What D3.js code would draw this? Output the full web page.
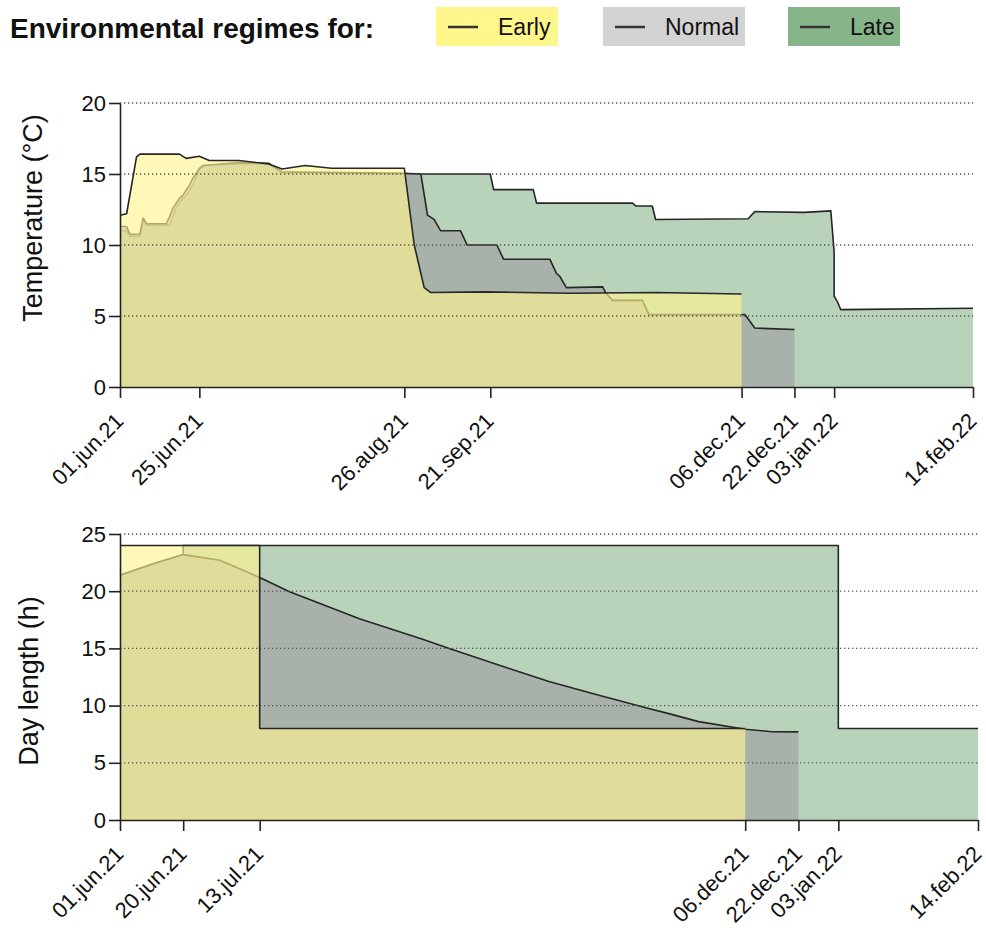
<!DOCTYPE html>
<html>
<head>
<meta charset="utf-8">
<script src="https://cdn.jsdelivr.net/npm/d3@7"></script>
<style>
body { margin: 0; background: #fff; }
svg { font-family: "Liberation Sans", Arial, sans-serif; }
</style>
</head>
<body>
<svg id="chart" width="986" height="928"></svg>
<script>
// regimes, drawn back to front (late first, early on top)
var regimes = ['Early', 'Normal', 'Late'];
var fillColors = {Early: '#fff492', Normal: '#a2a2a2', Late: '#86b48a'};
var fillAlpha = {Early: 0.64, Normal: 0.68, Late: 0.58};
var legendColors = {Early: '#fff68c', Normal: '#d3d3d3', Late: '#88b48a'};

// temperature (°C)
var earlyTemp = [
    ['2021-06-01', 12.1], ['2021-06-03', 12.2], ['2021-06-06', 16.2], ['2021-06-07', 16.4],
    ['2021-06-19', 16.4], ['2021-06-21', 16.1], ['2021-06-25', 16.25], ['2021-06-28', 15.95],
    ['2021-07-07', 15.95], ['2021-07-16', 15.7], ['2021-07-20', 15.35], ['2021-07-27', 15.6],
    ['2021-08-04', 15.4], ['2021-08-26', 15.4], ['2021-08-29', 10.0], ['2021-09-01', 7.0],
    ['2021-09-03', 6.65], ['2021-09-20', 6.7], ['2021-10-15', 6.6], ['2021-11-10', 6.65],
    ['2021-12-06', 6.55]
];
var normalTemp = [
    ['2021-06-01', 11.3], ['2021-06-03', 11.3], ['2021-06-04', 10.75], ['2021-06-07', 10.75],
    ['2021-06-08', 11.9], ['2021-06-09', 11.5], ['2021-06-15', 11.5], ['2021-06-16', 12.0],
    ['2021-06-17', 12.6], ['2021-06-19', 13.3], ['2021-06-20', 13.5], ['2021-06-22', 14.2],
    ['2021-06-23', 14.7], ['2021-06-25', 15.35], ['2021-06-26', 15.6], ['2021-07-07', 15.8],
    ['2021-07-16', 15.75], ['2021-07-20', 15.15], ['2021-08-26', 15.05], ['2021-08-31', 15.0],
    ['2021-09-02', 12.1], ['2021-09-04', 11.8], ['2021-09-06', 11.0], ['2021-09-12', 11.0],
    ['2021-09-14', 10.0], ['2021-09-23', 10.0], ['2021-09-25', 9.0], ['2021-10-09', 9.0],
    ['2021-10-11', 8.0], ['2021-10-12', 7.8], ['2021-10-14', 7.0], ['2021-10-25', 7.05],
    ['2021-10-26', 6.6], ['2021-10-28', 6.1], ['2021-11-06', 6.1], ['2021-11-08', 5.1],
    ['2021-12-07', 5.1], ['2021-12-10', 4.15], ['2021-12-22', 4.05]
];
var lateTemp = [
    ['2021-06-01', 11.0], ['2021-06-03', 11.0], ['2021-06-04', 10.6], ['2021-06-07', 10.6],
    ['2021-06-08', 11.75], ['2021-06-09', 11.4], ['2021-06-16', 11.4], ['2021-06-17', 12.0],
    ['2021-06-18', 12.7], ['2021-06-20', 13.3], ['2021-06-21', 13.5], ['2021-06-23', 14.2],
    ['2021-06-24', 14.8], ['2021-06-25', 15.4], ['2021-06-27', 15.6], ['2021-07-07', 15.7],
    ['2021-07-16', 15.7], ['2021-07-20', 15.1], ['2021-08-26', 15.0], ['2021-09-21', 15.0],
    ['2021-09-22', 13.9], ['2021-10-04', 13.9], ['2021-10-05', 12.95], ['2021-11-03', 12.95],
    ['2021-11-04', 12.75], ['2021-11-09', 12.75], ['2021-11-10', 11.8], ['2021-12-08', 11.85],
    ['2021-12-10', 12.35], ['2021-12-25', 12.3], ['2022-01-02', 12.4], ['2022-01-03', 9.5],
    ['2022-01-03', 6.4], ['2022-01-04', 6.0], ['2022-01-05', 5.45], ['2022-02-14', 5.55]
];

// day length (h)
var earlyDay = [
    ['2021-06-01', 24], ['2021-07-13', 24], ['2021-07-13', 8], ['2021-12-06', 8]
];
var normalDay = [
    ['2021-06-01', 21.4], ['2021-06-06', 21.9], ['2021-06-11', 22.4], ['2021-06-20', 23.2],
    ['2021-07-01', 22.7], ['2021-07-13', 21.2], ['2021-07-22', 19.95], ['2021-08-12', 17.6],
    ['2021-08-31', 15.8], ['2021-09-08', 15.0], ['2021-09-26', 13.25], ['2021-10-08', 12.1],
    ['2021-10-23', 10.9], ['2021-11-07', 9.75], ['2021-11-13', 9.3], ['2021-11-22', 8.6],
    ['2021-12-06', 7.93], ['2021-12-14', 7.72], ['2021-12-22', 7.7]
];
var lateDay = [
    ['2021-06-01', 21.4], ['2021-06-06', 21.9], ['2021-06-11', 22.4], ['2021-06-20', 23.2],
    ['2021-06-20', 24], ['2022-01-03', 24], ['2022-01-03', 8], ['2022-02-14', 8]
];

var tempTicks = ['2021-06-01', '2021-06-25', '2021-08-26', '2021-09-21', '2021-12-06', '2021-12-22', '2022-01-03', '2022-02-14'];
var dayTicks = ['2021-06-01', '2021-06-20', '2021-07-13', '2021-12-06', '2021-12-22', '2022-01-03', '2022-02-14'];
var tempYTicks = [0, 5, 10, 15, 20];
var dayYTicks = [0, 5, 10, 15, 20, 25];

var parse = d3.utcParse('%Y-%m-%d');
var fmt = d3.utcFormat('%d.%b.%y');
var svg = d3.select('#chart');

function to_points(rows) {
    return rows.map(function(r) { return {date: parse(r[0]), value: r[1]}; });
}

function draw_panel(p) {
    var x = d3.scaleUtc()
        .domain([parse('2021-06-01'), parse('2022-02-14')])
        .range([p.left, p.right]);
    var y = d3.scaleLinear().domain([0, p.ymax]).range([p.bottom, p.top]);
    var g = svg.append('g');

    var area = d3.area()
        .x(function(d) { return x(d.date); })
        .y0(y(0))
        .y1(function(d) { return y(d.value); });
    var line = d3.line()
        .x(function(d) { return x(d.date); })
        .y(function(d) { return y(d.value); });

    // late, normal, early
    ['Late', 'Normal', 'Early'].forEach(function(name) {
        var pts = to_points(p.series[name]);
        g.append('path')
            .attr('d', area(pts))
            .attr('fill', fillColors[name])
            .attr('fill-opacity', fillAlpha[name]);
        g.append('path')
            .attr('d', line(pts))
            .attr('fill', 'none')
            .attr('stroke', '#262626')
            .attr('stroke-width', 1.6)
            .attr('stroke-linejoin', 'round');
    });

    // dotted grid on top
    g.selectAll('.grid').data(p.yticks.filter(function(v) { return v > 0; }))
        .enter().append('line')
        .attr('x1', p.left).attr('x2', p.right)
        .attr('y1', function(d) { return y(d); })
        .attr('y2', function(d) { return y(d); })
        .attr('stroke', '#555')
        .attr('stroke-width', 1.3)
        .attr('stroke-dasharray', '1.3,2.7');

    var xAxis = g.append('g')
        .attr('transform', 'translate(0,' + p.bottom + ')')
        .call(d3.axisBottom(x)
              .tickValues(p.xticks.map(parse))
              .tickSize(11).tickSizeOuter(0)
              .tickFormat(function(d) { return fmt(d).toLowerCase(); }));
    xAxis.selectAll('text')
        .attr('x', 0).attr('y', 0)
        .attr('dy', '0.35em')
        .attr('text-anchor', 'end')
        .attr('transform', 'translate(-1,30) rotate(-45)');

    var yAxis = g.append('g')
        .attr('transform', 'translate(' + p.left + ',0)')
        .call(d3.axisLeft(y).tickValues(p.yticks).tickSize(11).tickPadding(3).tickSizeOuter(0));

    [xAxis, yAxis].forEach(function(a) {
        a.select('.domain').attr('stroke', '#222').attr('stroke-width', 1.6);
        a.selectAll('.tick line').attr('stroke', '#222').attr('stroke-width', 1.6);
        a.selectAll('text').attr('font-size', 22).attr('fill', '#111')
            .style('font-family', '"Liberation Sans", Arial, sans-serif');
    });

    g.append('text')
        .attr('transform', 'translate(' + p.titleX + ',' + p.titleY + ') rotate(-90)')
        .attr('text-anchor', 'middle')
        .attr('font-size', 27)
        .attr('fill', '#111')
        .text(p.title);
}

draw_panel({
    left: 120, right: 973, top: 103, bottom: 387, ymax: 20,
    yticks: tempYTicks, xticks: tempTicks,
    series: {Early: earlyTemp, Normal: normalTemp, Late: lateTemp},
    title: 'Temperature (°C)', titleX: 42, titleY: 218
});

draw_panel({
    left: 120, right: 978, top: 534, bottom: 820, ymax: 25,
    yticks: dayYTicks, xticks: dayTicks,
    series: {Early: earlyDay, Normal: normalDay, Late: lateDay},
    title: 'Day length (h)', titleX: 38, titleY: 681
});

// legend
svg.append('text')
    .attr('x', 10).attr('y', 38)
    .attr('font-size', 28).attr('font-weight', 'bold').attr('fill', '#111')
    .text('Environmental regimes for:');

var legendBoxes = [
    {name: 'Early', x: 436, w: 122},
    {name: 'Normal', x: 603, w: 142},
    {name: 'Late', x: 788, w: 112}
];
legendBoxes.forEach(function(b) {
    var lg = svg.append('g').attr('transform', 'translate(' + b.x + ',7)');
    lg.append('rect').attr('width', b.w).attr('height', 39).attr('fill', legendColors[b.name]);
    lg.append('line').attr('x1', 12).attr('x2', 42).attr('y1', 20).attr('y2', 20)
        .attr('stroke', '#333').attr('stroke-width', 2.5);
    lg.append('text').attr('x', 62).attr('y', 28)
        .attr('font-size', 23).attr('fill', '#111')
        .text(b.name);
});
</script>
</body>
</html>
